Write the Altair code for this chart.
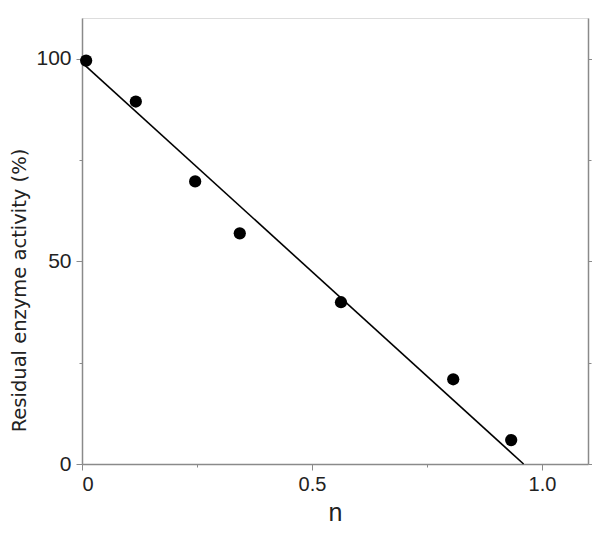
import altair as alt
import pandas as pd

n_vals = [0.009, 0.117, 0.246, 0.343, 0.563, 0.807, 0.933]
activity = [99.5, 89.4, 69.7, 56.9, 39.9, 20.9, 5.9]
fit_n = [0.0, 0.96]
fit_act = [99.0, 0.0]

pts = pd.DataFrame({"n": n_vals, "a": activity})
fit = pd.DataFrame({"n": fit_n, "a": fit_act})

FONT = "Liberation Sans"
GRAY = "#8a8a8a"

xscale = alt.Scale(domain=[0, 1.1], nice=False, zero=False)
yscale = alt.Scale(domain=[0, 110], nice=False, zero=False)

xaxis = alt.Axis(
    values=[0, 0.25, 0.5, 0.75, 1.0],
    labelExpr="datum.value == 0 ? '0' : (datum.value == 0.5 ? '0.5' : (datum.value == 1 ? '1.0' : ''))",
    tickSize={"condition": {"test": "datum.value == 0 || datum.value == 0.5 || datum.value == 1", "value": 6}, "value": 3},
    grid=False, domainColor=GRAY, tickColor=GRAY, domainWidth=1.5,
    labelFont=FONT, labelFontSize=20, labelColor="#222", labelPadding=4,
    title="n", titleFont=FONT, titleFontSize=25, titleFontWeight="normal",
    titleColor="#222", titlePadding=6,
)
yaxis = alt.Axis(
    values=[0, 25, 50, 75, 100],
    labelExpr="datum.value % 50 == 0 ? datum.label : ''",
    tickSize={"condition": {"test": "datum.value % 50 == 0", "value": 6}, "value": 3},
    grid=False, domainColor=GRAY, tickColor=GRAY, domainWidth=1.5,
    labelFont=FONT, labelFontSize=21, labelColor="#222", labelPadding=5,
    title="Residual enzyme activity  (%)", titleFont="DejaVu Sans", titleFontSize=19.5,
    titleFontWeight="normal", titleColor="#222",
    titleAngle=270, titleX=-63, titleY=272, titleAlign="center", titleBaseline="middle",
)
yaxis_r = alt.Axis(
    orient="right", values=[0, 25, 50, 75, 100], labels=False, title=None,
    tickSize={"condition": {"test": "datum.value % 50 == 0", "value": 6}, "value": 3},
    grid=False, domainColor=GRAY, tickColor=GRAY, domainWidth=1.5,
)

line = alt.Chart(fit).mark_line(color="black", strokeWidth=1.6).encode(
    x=alt.X("n:Q", scale=xscale, axis=xaxis),
    y=alt.Y("a:Q", scale=yscale, axis=yaxis),
)
points = alt.Chart(pts).mark_circle(color="black", opacity=1, size=150).encode(
    x=alt.X("n:Q", scale=xscale, axis=xaxis),
    y=alt.Y("a:Q", scale=yscale, axis=yaxis_r),
)

chart = alt.layer(line, points).resolve_axis(y="independent").properties(
    width=506, height=446,
    padding={"left": 74, "top": 10, "right": 4, "bottom": 60},
    autosize=alt.AutoSizeParams(type="none"),
).configure_view(stroke=GRAY, strokeWidth=1.5).configure(background="white")

chart.save("out.html", embed_options={"renderer": "svg", "actions": False})
